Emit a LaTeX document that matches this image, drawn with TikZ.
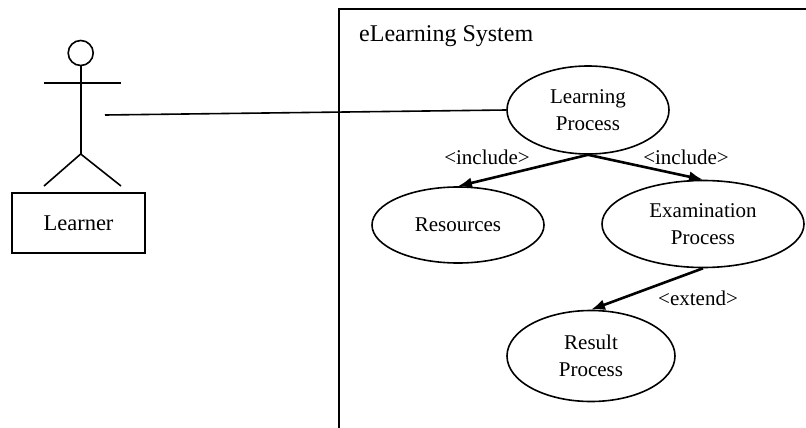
\documentclass[tikz,border=0pt]{standalone}
\usepackage{fontspec}
\setmainfont{Liberation Serif}
\usetikzlibrary{shapes.geometric,arrows.meta}
\tikzset{
  thin line/.style={line width=1.6pt},
  usecase/.style={ellipse, draw, line width=1.6pt, inner sep=0pt, align=center, font=\fontsize{21}{27}\selectfont},
  incl/.style={line width=2.6pt, -{Latex[length=14pt,width=11pt]}},
  lbl/.style={font=\fontsize{21}{25}\selectfont, inner sep=0pt}
}
\begin{document}
\begin{tikzpicture}[x=1pt,y=-1pt]
\useasboundingbox (0,0) rectangle (806,428);
\clip (0,0) rectangle (806,428);
% system boundary
\draw[thin line] (339,440) -- (339,9) -- (820,9);
\node[anchor=base west, font=\fontsize{24}{28}\selectfont, inner sep=0pt] (title) at (359,42) {eLearning System};
% actor
\node[circle, draw, thin line, minimum size=25pt, inner sep=0pt] (head) at (80.7,53) {};
\coordinate (hip) at (80.7,154);
\coordinate (armL) at (44,83);
\coordinate (armR) at (121,83);
\coordinate (legL) at (44,186);
\coordinate (legR) at (121,186);
\draw[thin line] (head.south) -- (hip);
\draw[thin line] (armL) -- (armR);
\draw[thin line] (legL) -- (hip) -- (legR);
\node[draw, thin line, minimum width=133pt, minimum height=60pt, inner sep=0pt, font=\fontsize{22.5}{27}\selectfont] (learner) at (78.5,223) {Learner};
\coordinate (hand) at (105,115);
% use cases
\node[usecase, minimum width=162pt, minimum height=88pt] (learn) at (588,110) {Learning\\Process};
\node[usecase, minimum width=172pt, minimum height=76pt] (res) at (458,225) {Resources};
\node[usecase, minimum width=202pt, minimum height=87pt] (exam) at (703,224) {Examination\\Process};
\node[usecase, minimum width=168pt, minimum height=91pt] (result) at (591,356) {Result\\Process};
% connectors
\draw[thin line] (hand) -- (learn.west);
\draw[incl] (learn.south) -- (res.north);
\draw[incl] (learn.south) -- (exam.north);
\draw[incl] (exam.south) -- (result.north);
% labels
\node[lbl] (inc1) at (487,157) {<include>};
\node[lbl] (inc2) at (686,157) {<include>};
\node[lbl] (ext) at (698,298) {<extend>};
\end{tikzpicture}
\end{document}
